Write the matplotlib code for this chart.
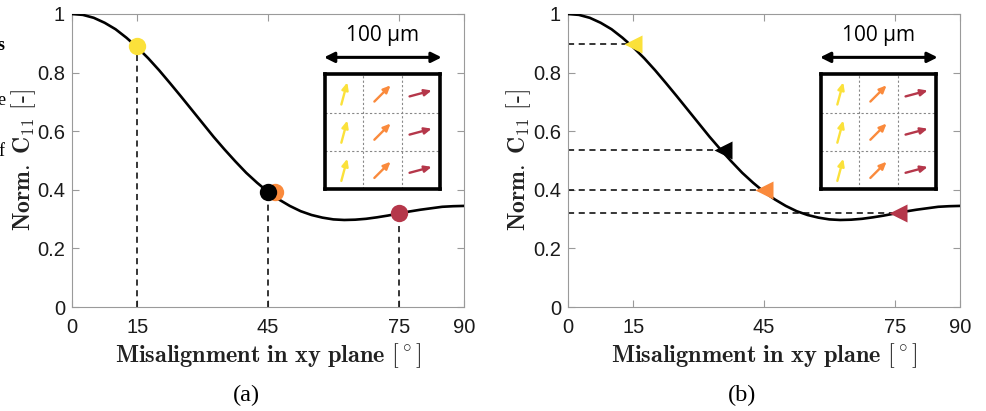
import matplotlib
matplotlib.use("Agg")
import matplotlib.pyplot as plt
import numpy as np

plt.rcParams['mathtext.fontset'] = 'cm'
plt.rcParams['axes.unicode_minus'] = False

# normalised C11 vs in-plane misalignment (every 2.5 deg)
angles = [0, 2.5, 5, 7.5, 10, 12.5, 15, 17.5, 20, 22.5, 25, 27.5, 30, 32.5, 35, 37.5,
          40, 42.5, 45, 47.5, 50, 52.5, 55, 57.5, 60, 62.5, 65, 67.5, 70, 72.5, 75,
          77.5, 80, 82.5, 85, 87.5, 90]
c11 = [1.000, 0.997, 0.987, 0.970, 0.948, 0.919, 0.886, 0.849, 0.808, 0.764, 0.719,
       0.673, 0.627, 0.581, 0.538, 0.497, 0.458, 0.424, 0.393, 0.367, 0.345, 0.327,
       0.314, 0.305, 0.299, 0.297, 0.298, 0.301, 0.306, 0.312, 0.319, 0.326, 0.332,
       0.337, 0.342, 0.344, 0.345]

xticks = [0, 15, 45, 75, 90]
yticks = [0, 0.2, 0.4, 0.6, 0.8, 1.0]
yticklabels = ['0', '0.2', '0.4', '0.6', '0.8', '1']

# highlighted orientations
col_yellow = '#fbe13a'
col_orange = '#fa8a3c'
col_red = '#b5374a'
col_black = '#000000'

# panel (a): circles
a_x = [15, 46.5, 45, 75]
a_y = [0.892, 0.394, 0.394, 0.320]
a_col = [col_yellow, col_orange, col_black, col_red]
a_drop = [15, 45, 75]
a_drop_y = [0.890, 0.393, 0.320]

# panel (b): triangles
b_x = [15, 35.5, 45, 75.8]
b_y = [0.898, 0.536, 0.399, 0.320]
b_col = [col_yellow, col_black, col_orange, col_red]

# fibre arrows in the RVE sketch (angle from horizontal per column)
rve_angles = [75, 45, 15]
rve_colors = [col_yellow, col_orange, col_red]

serif_font = 'cmr10'
tick_gray = '#9a9a9a'


def draw_rve(ax):
    ins = ax.inset_axes([0.646, 0.403, 0.292, 0.391])
    ins.set_xlim(0, 3)
    ins.set_ylim(0, 3)
    ins.set_xticks([])
    ins.set_yticks([])
    for s in ins.spines.values():
        s.set_linewidth(2.6)
        s.set_color('black')
    for k in [1, 2]:
        ins.axvline(k, color='#888888', lw=0.8, ls=(0, (2, 2)))
        ins.axhline(k, color='#888888', lw=0.8, ls=(0, (2, 2)))
    L = 0.6
    for j, (ang, c) in enumerate(zip(rve_angles, rve_colors)):
        dx = L * np.cos(np.radians(ang))
        dy = L * np.sin(np.radians(ang))
        for i in range(3):
            cx, cy = j + 0.5, i + 0.5
            ins.annotate('', xy=(cx + dx / 2, cy + dy / 2), xytext=(cx - dx / 2, cy - dy / 2),
                         arrowprops=dict(arrowstyle='-|>,head_length=0.42,head_width=0.19',
                                         color=c, lw=1.7, shrinkA=0, shrinkB=0))
    # scale bar
    ax.annotate('', xy=(0.943, 0.852), xytext=(0.643, 0.852), xycoords='axes fraction',
                arrowprops=dict(arrowstyle='<|-|>,head_length=0.6,head_width=0.3',
                                color='black', lw=2.2, shrinkA=0, shrinkB=0))
    ax.text(0.793, 0.925, '100 µm', transform=ax.transAxes, ha='center', va='center',
            fontsize=15, family='Open Sans')


def setup_axes(ax):
    ax.plot(angles, c11, color='black', lw=1.9, zorder=3)
    ax.set_xlim(0, 90)
    ax.set_ylim(0, 1)
    ax.set_xticks(xticks)
    ax.set_yticks(yticks)
    ax.set_yticklabels(yticklabels)
    ax.tick_params(direction='in', length=5, width=0.8, color=tick_gray, labelsize=14.5,
                   top=True, right=True, labelcolor='#1a1a1a')
    ax.tick_params(axis='x', pad=8)
    ax.tick_params(axis='y', pad=5)
    for lab in ax.get_xticklabels() + ax.get_yticklabels():
        lab.set_family('Liberation Sans')
    for s in ax.spines.values():
        s.set_color(tick_gray)
        s.set_linewidth(0.8)
    ax.set_xlabel(r'$\mathbf{Misalignment\ in\ xy\ plane}$ [$^\circ$]', family=serif_font,
                  fontsize=17.5, color='#222222')
    ax.set_ylabel(r'$\mathbf{Norm.\ C}_{11}$ [-]', family=serif_font, fontsize=17,
                  color='#222222')
    ax.xaxis.set_label_coords(0.5, -0.118)
    ax.yaxis.set_label_coords(-0.087, 0.5)
    draw_rve(ax)


fig = plt.figure(figsize=(9.87, 4.11), dpi=100)
ax_a = fig.add_axes([0.07295, 0.25304, 0.39716, 0.71290])
ax_b = fig.add_axes([0.57548, 0.25304, 0.39716, 0.71290])

setup_axes(ax_a)
for x, y in zip(a_drop, a_drop_y):
    ax_a.plot([x, x], [0, y], color='black', lw=1.1, ls=(0, (4, 3)), zorder=2)
for x, y, c in zip(a_x, a_y, a_col):
    ax_a.plot(x, y, 'o', ms=12.5, color=c, mec='none', zorder=4)

setup_axes(ax_b)
ax_b.yaxis.set_label_coords(-0.089, 0.5)
for x, y in zip(b_x, b_y):
    ax_b.plot([0, x], [y, y], color='black', lw=1.1, ls=(0, (4, 3)), zorder=2)
for x, y, c in zip(b_x, b_y, b_col):
    ax_b.plot(x, y, '<', ms=13, color=c, mec='none', zorder=4)

fig.text(246.7 / 987, 1 - 395 / 411, '(a)', ha='center', va='center', fontsize=17.5,
         family='Liberation Serif')
fig.text(742 / 987, 1 - 395 / 411, '(b)', ha='center', va='center', fontsize=17.5,
         family='Liberation Serif')

# letters cut off at the left margin
for ch, yp in [('s', 46), ('e', 100), ('f', 152)]:
    fig.text(1 / 987, 1 - yp / 411, ch, ha='center', va='center', fontsize=13,
             family='Liberation Serif', fontweight='bold' if ch == 's' else 'normal')

fig.savefig('out.png', dpi=100)
